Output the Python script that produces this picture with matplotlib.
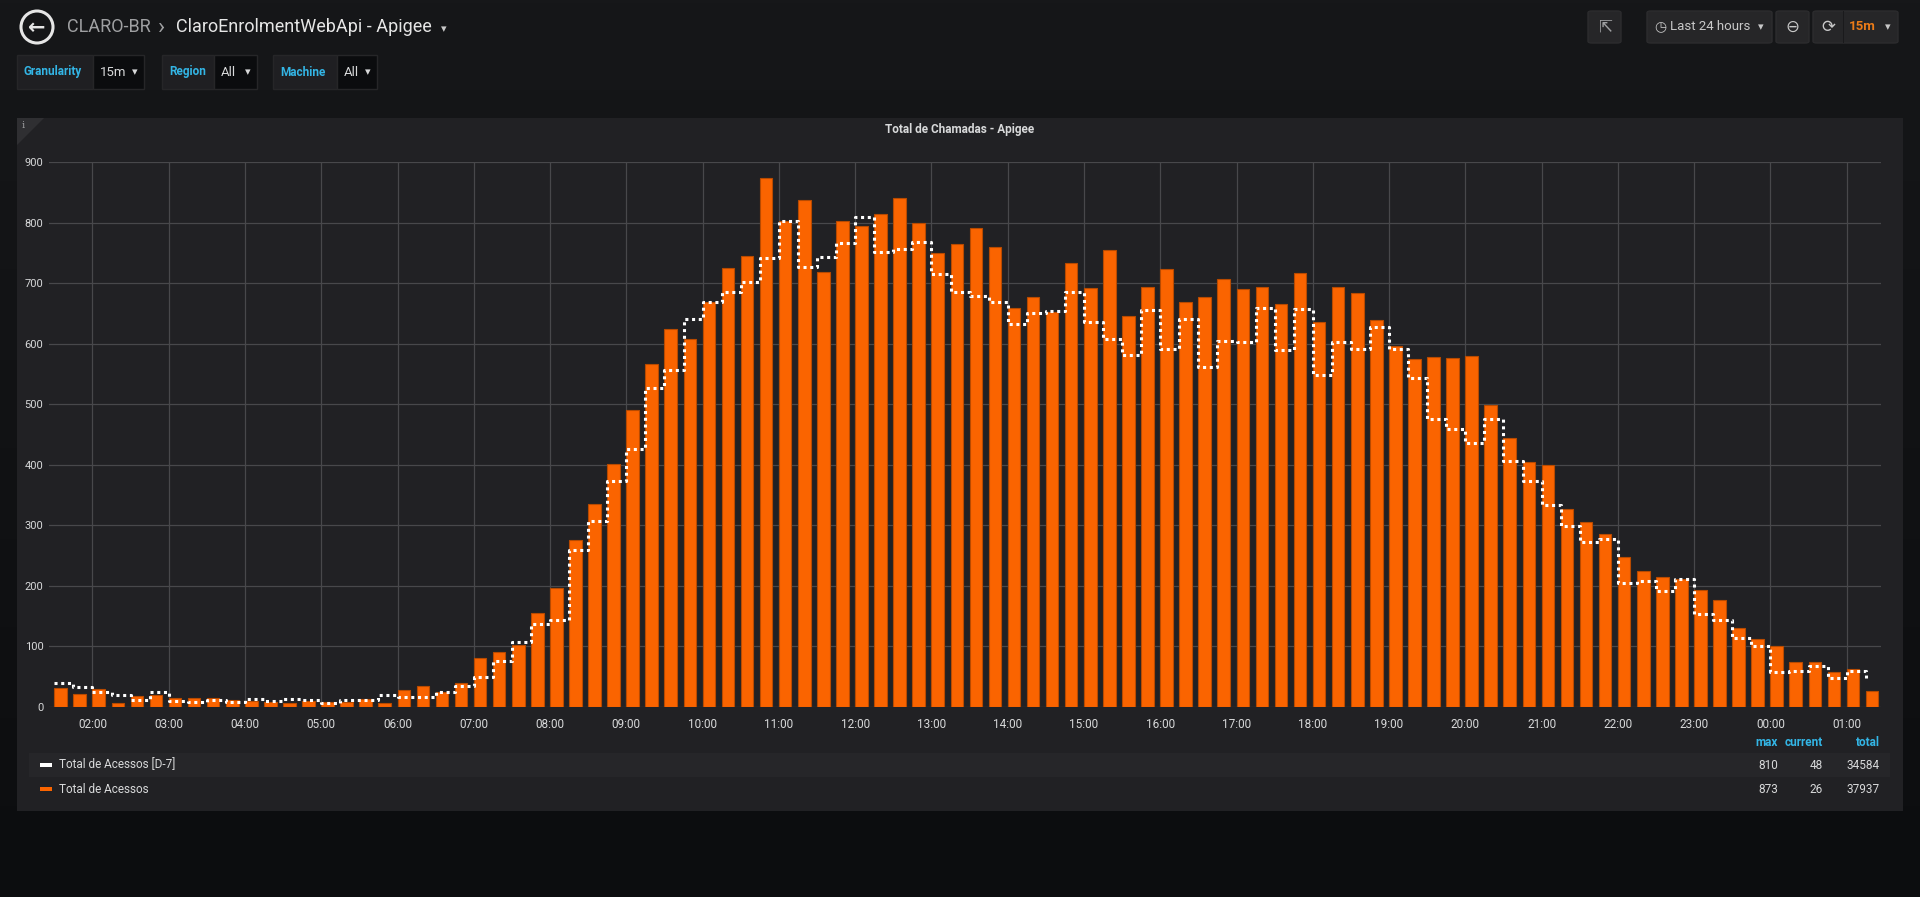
import numpy as np
import matplotlib
matplotlib.use("Agg")
import matplotlib.pyplot as plt
from matplotlib.patches import Rectangle, Circle, Polygon, FancyBboxPatch
from matplotlib.colors import LinearSegmentedColormap

# 15 minute slots, last 24 hours
slots = [
    "01:30", "01:45", "02:00", "02:15", "02:30", "02:45", "03:00", "03:15",
    "03:30", "03:45", "04:00", "04:15", "04:30", "04:45", "05:00", "05:15",
    "05:30", "05:45", "06:00", "06:15", "06:30", "06:45", "07:00", "07:15",
    "07:30", "07:45", "08:00", "08:15", "08:30", "08:45", "09:00", "09:15",
    "09:30", "09:45", "10:00", "10:15", "10:30", "10:45", "11:00", "11:15",
    "11:30", "11:45", "12:00", "12:15", "12:30", "12:45", "13:00", "13:15",
    "13:30", "13:45", "14:00", "14:15", "14:30", "14:45", "15:00", "15:15",
    "15:30", "15:45", "16:00", "16:15", "16:30", "16:45", "17:00", "17:15",
    "17:30", "17:45", "18:00", "18:15", "18:30", "18:45", "19:00", "19:15",
    "19:30", "19:45", "20:00", "20:15", "20:30", "20:45", "21:00", "21:15",
    "21:30", "21:45", "22:00", "22:15", "22:30", "22:45", "23:00", "23:15",
    "23:30", "23:45", "00:00", "00:15", "00:30", "00:45", "01:00", "01:15",
]

# Total de Acessos (bars)
acessos = [
    32, 22, 29, 7, 18, 19, 15, 15,
    15, 12, 10, 8, 7, 10, 9, 9,
    13, 7, 28, 34, 25, 40, 81, 91,
    102, 155, 197, 276, 335, 402, 491, 567,
    624, 607, 669, 725, 745, 873, 803, 838,
    718, 803, 794, 814, 841, 800, 749, 764,
    791, 760, 659, 677, 652, 733, 692, 754,
    645, 694, 723, 668, 677, 707, 690, 694,
    665, 716, 635, 694, 684, 639, 596, 575,
    578, 576, 579, 498, 444, 405, 399, 327,
    306, 286, 247, 225, 215, 211, 193, 177,
    131, 112, 100, 75, 75, 57, 62, 26,
]

# Total de Acessos [D-7] (dotted step line)
acessos_d7 = [
    40, 33, 24, 20, 11, 24, 10, 9,
    11, 8, 14, 10, 14, 12, 7, 12,
    11, 19, 17, 17, 25, 35, 49, 76,
    107, 137, 144, 259, 307, 374, 426, 526,
    556, 641, 669, 685, 702, 742, 803, 727,
    743, 766, 810, 751, 757, 768, 715, 686,
    678, 668, 633, 651, 654, 685, 636, 608,
    582, 655, 591, 640, 562, 605, 602, 659,
    590, 657, 549, 602, 591, 627, 591, 544,
    475, 459, 436, 475, 406, 374, 333, 299,
    272, 277, 205, 208, 192, 212, 153, 144,
    114, 100, 58, 59, 67, 48, 60, 48,
]

hour_labels = ["02:00", "03:00", "04:00", "05:00", "06:00", "07:00", "08:00",
               "09:00", "10:00", "11:00", "12:00", "13:00", "14:00", "15:00",
               "16:00", "17:00", "18:00", "19:00", "20:00", "21:00", "22:00",
               "23:00", "00:00", "01:00"]
y_ticks = [0, 100, 200, 300, 400, 500, 600, 700, 800, 900]

legend_names = ["Total de Acessos [D-7]", "Total de Acessos"]
legend_colors = ["#ffffff", "#fa6400"]
legend_max = ["810", "873"]
legend_current = ["48", "26"]
legend_total = ["34584", "37937"]

W, H = 1920, 897
TXT = "#d8d9da"
BLUE = "#33b5e5"
ORANGE = "#fa6400"
plt.rcParams["font.family"] = ["Roboto", "DejaVu Sans"]


def fx(x):
    return x / W


def fy(y):
    return 1 - y / H


def rect(fig, x0, y0, x1, y1, color, ec="none", z=1):
    fig.patches.append(Rectangle((fx(x0), fy(y1)), fx(x1 - x0), (y1 - y0) / H,
                                 transform=fig.transFigure, facecolor=color,
                                 edgecolor=ec, lw=1, zorder=z))


def to_hours(labels):
    # turn "HH:MM" into running hours, rolling over midnight
    out = []
    prev = -1
    day = 0
    for s in labels:
        h, m = s.split(":")
        v = int(h) + int(m) / 60.0
        if v + day < prev:
            day += 24
        out.append(v + day)
        prev = v + day
    return np.array(out)


def header(fig):
    # back button + breadcrumb (circle in inches so it stays round)
    fig.patches.append(Circle((37 / 100, (H - 27) / 100), 0.16,
                              transform=fig.dpi_scale_trans,
                              facecolor="none", edgecolor="#e6e6e6", lw=2.2))
    fig.text(fx(37), fy(28), "\u2190", color="#e6e6e6", fontsize=15, weight="bold",
             ha="center", va="center", family="DejaVu Sans")
    fig.text(fx(67), fy(27), "CLARO-BR", color="#9fa0a2", fontsize=13, va="center")
    fig.text(fx(158), fy(27), "\u203a", color="#9fa0a2", fontsize=17, va="center")
    fig.text(fx(176), fy(27), "ClaroEnrolmentWebApi - Apigee", color="#e6e6e6",
             fontsize=13, va="center")
    fig.text(fx(441), fy(29), "\u25be", color="#c8c8c8", fontsize=8, va="center",
             family="DejaVu Sans")

    # variable pickers
    boxes = [(17, 93, 144, "Granularity", "15m"),
             (162, 214, 257, "Region", "All"),
             (273, 337, 377, "Machine", "All")]
    for x0, xm, x1, lab, val in boxes:
        rect(fig, x0, 55, xm, 89, "#1f1f22", ec="#262628")
        rect(fig, xm, 55, x1, 89, "#0b0c0e", ec="#262628")
        fig.text(fx(x0 + 7), fy(72), lab, color=BLUE, fontsize=8.5, weight="bold",
                 va="center")
        fig.text(fx(xm + 7), fy(73), val, color=TXT, fontsize=9.5, va="center")
        fig.text(fx(x1 - 6), fy(72), "\u25be", color=TXT, fontsize=8, va="center",
                 ha="right", family="DejaVu Sans")

    # top right buttons
    btn = "#262628"
    for x0, x1 in [(1588, 1621), (1647, 1772), (1776, 1809), (1813, 1898)]:
        fig.patches.append(FancyBboxPatch((fx(x0), fy(43)), fx(x1 - x0), 32 / H,
                                          boxstyle="round,pad=0,rounding_size=0.002",
                                          transform=fig.transFigure, facecolor=btn,
                                          edgecolor="#2c2c2e", lw=1))
    rect(fig, 1843, 11, 1844, 43, "#1a1a1c", z=2)
    fig.text(fx(1605), fy(27), "\u21f1", color="#9fa0a2", fontsize=12, ha="center",
             va="center", family="DejaVu Sans")
    fig.text(fx(1660), fy(27), "\u25f7", color="#c8c8c8", fontsize=10, ha="center",
             va="center", family="DejaVu Sans")
    fig.text(fx(1670), fy(27), "Last 24 hours", color="#c8c8c8", fontsize=9.5,
             va="center")
    fig.text(fx(1761), fy(27), "\u25be", color="#c8c8c8", fontsize=8, ha="center",
             va="center", family="DejaVu Sans")
    fig.text(fx(1792), fy(27), "\u2296", color="#c8c8c8", fontsize=12, ha="center",
             va="center", family="DejaVu Sans")
    fig.text(fx(1828), fy(27), "\u27f3", color="#c8c8c8", fontsize=12, ha="center",
             va="center", family="DejaVu Sans")
    fig.text(fx(1849), fy(27), "15m", color="#eb7b18", fontsize=9.5, weight="bold",
             va="center")
    fig.text(fx(1888), fy(27), "\u25be", color="#c8c8c8", fontsize=8, ha="center",
             va="center", family="DejaVu Sans")


def legend(fig):
    rect(fig, 29, 753, 1890, 777, "#262629")
    fig.text(fx(1778), fy(742), "max", color=BLUE, fontsize=8.5, weight="bold",
             ha="right", va="center")
    fig.text(fx(1823), fy(742), "current", color=BLUE, fontsize=8.5, weight="bold",
             ha="right", va="center")
    fig.text(fx(1880), fy(742), "total", color=BLUE, fontsize=8.5, weight="bold",
             ha="right", va="center")
    for i, name in enumerate(legend_names):
        y = 765 + i * 24
        rect(fig, 40, y - 2, 52, y + 2, legend_colors[i], z=3)
        fig.text(fx(59), fy(y), name, color=TXT, fontsize=8.5, va="center")
        fig.text(fx(1778), fy(y), legend_max[i], color=TXT, fontsize=8.5,
                 ha="right", va="center")
        fig.text(fx(1823), fy(y), legend_current[i], color=TXT, fontsize=8.5,
                 ha="right", va="center")
        fig.text(fx(1880), fy(y), legend_total[i], color=TXT, fontsize=8.5,
                 ha="right", va="center")


def main():
    fig = plt.figure(figsize=(W / 100, H / 100), dpi=100)

    # page background, slightly darker towards the bottom
    bg = fig.add_axes([0, 0, 1, 1], zorder=-10)
    grad = np.linspace(0, 1, 256).reshape(-1, 1)
    cmap = LinearSegmentedColormap.from_list("bg", ["#161719", "#0c0d0f"])
    bg.imshow(grad, aspect="auto", cmap=cmap, extent=[0, 1, 0, 1])
    bg.axis("off")

    # panel
    rect(fig, 17, 118, 1903, 811, "#212124", z=-5)
    fig.patches.append(Polygon([(fx(17), fy(118)), (fx(44), fy(118)), (fx(17), fy(145))],
                               closed=True, transform=fig.transFigure,
                               facecolor="#2f2f32", edgecolor="none", zorder=1))
    fig.text(fx(22), fy(125), "i", color="#9fa0a2", fontsize=7, va="center",
             family="DejaVu Serif")
    fig.text(0.5, fy(130), "Total de Chamadas - Apigee", color=TXT, fontsize=8.5,
             weight="bold", ha="center", va="center")

    header(fig)
    legend(fig)

    ax = fig.add_axes([fx(49), fy(707), fx(1832), 545 / H], zorder=5)
    ax.set_facecolor("none")
    x = to_hours(slots)
    ax.bar(x, acessos, width=0.165, align="edge", color=ORANGE,
           edgecolor="#b84a00", linewidth=0.8, zorder=2)
    ax.step(x, acessos_d7, where="post", color="white", lw=2.2,
            linestyle=(0, (1, 1.2)), zorder=3)

    ax.set_xlim(1.43, 25.45)
    ax.set_ylim(0, 900)
    ax.set_xticks(np.arange(2, 26))
    ax.set_xticklabels(hour_labels)
    ax.set_yticks(y_ticks)
    ax.set_yticklabels([str(v) for v in y_ticks])
    ax.grid(True, color="#48484b", lw=0.9)
    ax.set_axisbelow(True)
    for s in ax.spines.values():
        s.set_visible(False)
    ax.tick_params(length=0, colors=TXT, labelsize=8)
    ax.tick_params(axis="x", pad=8, labelsize=8.5)
    ax.tick_params(axis="y", pad=4)

    fig.savefig("out.png", dpi=100, facecolor="#161719")


if __name__ == "__main__":
    main()
